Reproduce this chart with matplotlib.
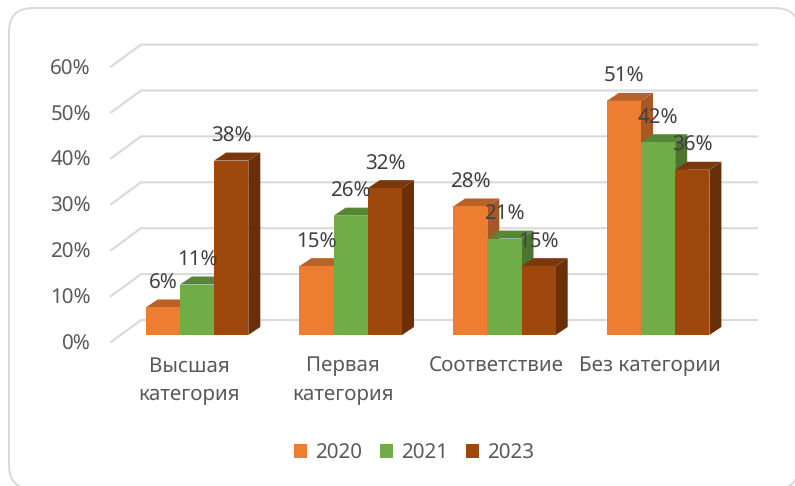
import numpy as np
import matplotlib
matplotlib.use("Agg")
import matplotlib.pyplot as plt
from matplotlib.patches import FancyBboxPatch, Polygon

categories = ["Высшая\nкатегория", "Первая\nкатегория", "Соответствие", "Без категории"]
years = ["2020", "2021", "2023"]
values_2020 = [6, 15, 28, 51]
values_2021 = [11, 26, 21, 42]
values_2023 = [38, 32, 15, 36]
y_ticks = [0, 10, 20, 30, 40, 50, 60]

front_colors = ["#ED7D31", "#70AD47", "#9E480E"]
top_colors = ["#B96127", "#578637", "#7B380B"]
side_colors = ["#A85824", "#4C7530", "#692F08"]

W, H = 795, 486
FONT = 14.8
plt.rcParams["font.family"] = ["Noto Sans", "DejaVu Sans"]
plt.rcParams["text.hinting"] = "none"

# pixels per unit on both axes
PX_X = 153.7
PX_Y = 4.59
bar_w = 34.2 / PX_X
group_x = 197  # pixel centre of first group

fig = plt.figure(figsize=(W / 100, H / 100), dpi=100)
fig.patches.append(FancyBboxPatch((9 / W, (H - 489) / H), 790 / W, 481 / H,
                                  boxstyle="round,pad=0,rounding_size=0.03",
                                  transform=fig.transFigure, fc="white", ec="#d9d9d9",
                                  lw=1.4, mutation_aspect=W / H, zorder=-1))

ax = fig.add_axes([111 / W, (H - 342) / H, (757 - 111) / W, 60 * PX_Y / H])
ax.set_xlim((111 - group_x) / PX_X, (757 - group_x) / PX_X)
ax.set_ylim(0, 60)
ax.patch.set_visible(False)
for s in ax.spines.values():
    s.set_visible(False)

# floor/back wall gridlines
back_dx = 30 / PX_X
back_dy = 22 / PX_Y
x_left = ax.get_xlim()[0]
x_right = ax.get_xlim()[1]
for t in y_ticks:
    ax.plot([x_left, x_left + back_dx, x_right], [t, t + back_dy, t + back_dy],
            color="#d9d9d9", lw=1.5, clip_on=False, zorder=1)

# bars with fake depth
lift = 7 / PX_Y
depth_x = 12 / PX_X
depth_y = 8 / PX_Y
series = [values_2020, values_2021, values_2023]
x = np.arange(len(categories))
handles = []
for i, vals in enumerate(series):
    xs = x + (i - 1) * bar_w
    b = ax.bar(xs, vals, width=bar_w, bottom=lift, color=front_colors[i], label=years[i],
               zorder=2 + i * 0.1 + 0.05, clip_on=False)
    handles.append(b)
    for xc, v in zip(xs, vals):
        l, r = xc - bar_w / 2, xc + bar_w / 2
        top = v + lift
        ax.add_patch(Polygon([(l, top), (r, top), (r + depth_x, top + depth_y), (l + depth_x, top + depth_y)],
                             fc=top_colors[i], ec="none", zorder=2 + i * 0.1, clip_on=False))
        ax.add_patch(Polygon([(r, lift), (r + depth_x, lift + depth_y), (r + depth_x, top + depth_y), (r, top)],
                             fc=side_colors[i], ec="none", zorder=2 + i * 0.1, clip_on=False))
        ax.annotate(f"{v}%", (xc, top), xytext=(0, 24 * 0.72), textcoords="offset points",
                    ha="center", va="center", fontsize=FONT, color="#404040", zorder=5)

ax.set_yticks(y_ticks)
ax.set_yticklabels([f"{t}%" for t in y_ticks])
ax.set_xticks(x - 8 / PX_X)
ax.set_xticklabels(categories, linespacing=1.5)
ax.tick_params(axis="both", length=0, labelsize=FONT, labelcolor="#595959")
ax.tick_params(axis="y", pad=14.5)
ax.tick_params(axis="x", pad=10)

leg = fig.legend(handles=handles, labels=years, loc="center", bbox_to_anchor=(414 / W, (H - 453) / H),
                 ncol=3, frameon=False, fontsize=FONT, labelcolor="#595959",
                 handlelength=0.65, handleheight=0.65, handletextpad=0.4, columnspacing=0.85)

fig.savefig("out.png", dpi=100)
